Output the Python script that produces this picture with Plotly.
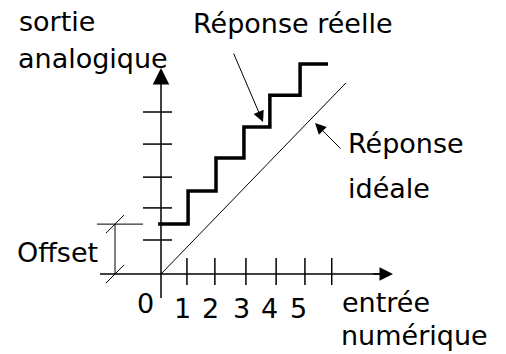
import plotly.graph_objects as go

# ---------------- data (axis units: 1 x-unit = one input code, 1 y-unit = one output step)
x_tick_pos = [0.91, 1.89, 2.98, 4.04, 5.05, 5.99]
x_tick_labels = ["0", "1", "2", "3", "4", "5"]
x_label_pos = [-0.53, 0.74, 1.72, 2.84, 3.82, 4.81]
y_tick_pos = [1.05, 2.04, 2.99, 4.01, 5.00]
step_edges = [-0.10, 0.95, 1.93, 2.91, 3.82, 4.88, 5.86]
step_levels = [1.54, 2.56, 3.58, 4.54, 5.52, 6.48]
ideal_x = [0.0, 6.49]
ideal_y = [0.0, 5.90]
offset_value = 1.54

# ---------------- layout constants
X_RANGE = [-5.649, 12.105]
Y_RANGE = [-2.469, 8.457]
X_AXIS_START, X_AXIS_END = -2.14, 8.14
Y_AXIS_START, Y_AXIS_END = -0.74, 6.36
XT_LO, XT_HI = -0.34, 0.494
YT_LO, YT_HI = -0.632, 0.386
DIM_X = -1.614
DIM_EXT_LEFT = -2.246
FONT = dict(family="DejaVu Sans", size=27, color="black")

fig = go.Figure()

# axes lines
fig.add_trace(go.Scatter(
    x=[X_AXIS_START, X_AXIS_END - 0.4, None, 0, 0],
    y=[0, 0, None, Y_AXIS_START, Y_AXIS_END - 0.4],
    mode="lines", line=dict(color="black", width=1.5), hoverinfo="skip"))

# ticks
tx, ty = [], []
for t in x_tick_pos:
    tx += [t, t, None]
    ty += [XT_LO, XT_HI, None]
for t in y_tick_pos:
    tx += [YT_LO, YT_HI, None]
    ty += [t, t, None]
fig.add_trace(go.Scatter(x=tx, y=ty, mode="lines",
                         line=dict(color="black", width=1.5), hoverinfo="skip"))

# ideal response
fig.add_trace(go.Scatter(x=ideal_x, y=ideal_y, mode="lines",
                         line=dict(color="black", width=1), hoverinfo="skip"))

# real response (staircase)
fig.add_trace(go.Scatter(x=step_edges, y=step_levels + [step_levels[-1]],
                         mode="lines", line=dict(color="black", width=3.5, shape="hv"),
                         hoverinfo="skip"))

# offset dimension
sl_dx, sl_dy = 0.316, 0.28
fig.add_trace(go.Scatter(
    x=[DIM_X, DIM_X, None, DIM_EXT_LEFT, YT_LO, None,
       DIM_X - sl_dx, DIM_X + sl_dx, None, DIM_X - sl_dx, DIM_X + sl_dx],
    y=[0, offset_value, None, offset_value, offset_value, None,
       offset_value - sl_dy, offset_value + sl_dy, None, -sl_dy, sl_dy],
    mode="lines", line=dict(color="black", width=1), hoverinfo="skip"))

annotations = []
# axis arrowheads
annotations.append(dict(x=0, y=Y_AXIS_END, ax=0, ay=Y_AXIS_END - 0.5,
                        xref="x", yref="y", axref="x", ayref="y", text="",
                        showarrow=True, arrowhead=2, arrowwidth=1.5, arrowsize=2.2,
                        arrowcolor="black"))
annotations.append(dict(x=X_AXIS_END, y=0, ax=X_AXIS_END - 0.75, ay=0,
                        xref="x", yref="y", axref="x", ayref="y", text="",
                        showarrow=True, arrowhead=2, arrowwidth=1.5, arrowsize=1.8,
                        arrowcolor="black"))
# pointer arrows
annotations.append(dict(x=3.579, y=4.691, ax=2.526, ay=6.852,
                        xref="x", yref="y", axref="x", ayref="y", text="",
                        showarrow=True, arrowhead=2, arrowwidth=1, arrowsize=2.2,
                        arrowcolor="black"))
annotations.append(dict(x=5.404, y=4.660, ax=6.351, ay=3.827,
                        xref="x", yref="y", axref="x", ayref="y", text="",
                        showarrow=True, arrowhead=2, arrowwidth=1, arrowsize=2.2,
                        arrowcolor="black"))

texts = [
    ("sortie", -4.982, 7.787),
    ("analogique", -5.018, 6.645),
    ("Réponse réelle", 1.123, 7.725),
    ("Réponse", 6.561, 4.022),
    ("idéale", 6.561, 2.633),
    ("Offset", -5.053, 0.657),
    ("entrée", 6.351, -0.886),
    ("numérique", 6.316, -1.904),
]
for t, x, y in texts:
    annotations.append(dict(x=x, y=y, xref="x", yref="y", text=t, showarrow=False,
                            xanchor="left", yanchor="middle", font=FONT,
                            borderpad=0, borderwidth=0))

label_y = [-0.917] + [-1.071] * 5
for lab, x, y in zip(x_tick_labels, x_label_pos, label_y):
    annotations.append(dict(x=x, y=y, xref="x", yref="y", text=lab, showarrow=False,
                            xanchor="center", yanchor="middle", font=FONT,
                            borderpad=0, borderwidth=0))

fig.update_layout(
    width=506, height=354,
    margin=dict(l=0, r=0, t=0, b=0),
    paper_bgcolor="white", plot_bgcolor="white",
    showlegend=False,
    xaxis=dict(range=X_RANGE, visible=False, fixedrange=True),
    yaxis=dict(range=Y_RANGE, visible=False, fixedrange=True),
    annotations=annotations,
)

fig.write_html("out.html", config={"displayModeBar": False},
               post_script="document.body.style.margin='0';document.body.style.overflow='hidden';")
